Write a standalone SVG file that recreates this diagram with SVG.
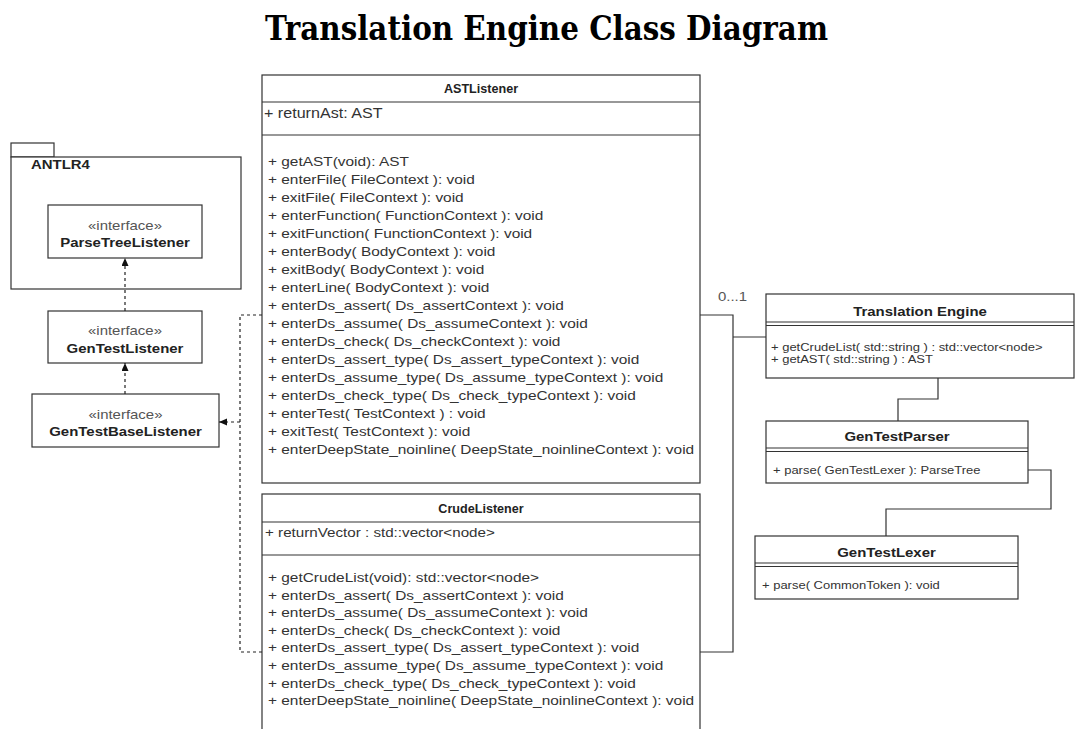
<svg xmlns="http://www.w3.org/2000/svg" width="1076" height="729" viewBox="0 0 1076 729">
<defs>
<marker id="tri" markerWidth="9" markerHeight="8" refX="8" refY="3.5" orient="auto" markerUnits="userSpaceOnUse">
<path d="M0,0 L8,3.5 L0,7 z" fill="#111"/>
</marker>
<style>
.box{fill:#fff;stroke:#333;stroke-width:1.2}
.ln{fill:none;stroke:#333;stroke-width:1.2}
.dash{fill:none;stroke:#222;stroke-width:1.2;stroke-dasharray:3,3}
text{font-family:"Liberation Sans",Arial,sans-serif;fill:#333}
.m{font-size:13.4px}
.s{font-size:11.3px}
.b{font-weight:bold;font-size:13px;fill:#222}
.hb{font-weight:bold;font-size:12px;fill:#222}
.st{font-size:13px;fill:#555}
.title{font-family:"DejaVu Serif","Liberation Serif",serif;font-weight:bold;font-size:33px;fill:#000}
</style>
</defs>
<rect width="1076" height="729" fill="#fff"/>

<text class="title" x="265" y="40" textLength="563" lengthAdjust="spacingAndGlyphs">Translation Engine Class Diagram</text>

<g id="antlr4">
<rect class="box" x="11" y="143" width="43" height="14"/>
<rect class="box" x="11" y="157" width="230" height="132"/>
<text class="b" transform="translate(31,169) scale(1.15,1)">ANTLR4</text>
</g>

<g id="parseTreeListener">
<rect class="box" x="48" y="205" width="154" height="53"/>
<text class="st" text-anchor="middle" transform="translate(125,229.5) scale(1.15,1)">«interface»</text>
<text class="b" text-anchor="middle" transform="translate(125,247) scale(1.15,1)">ParseTreeListener</text>
</g>

<g id="genTestListener">
<rect class="box" x="48" y="311" width="154" height="52"/>
<text class="st" text-anchor="middle" transform="translate(125,335) scale(1.15,1)">«interface»</text>
<text class="b" text-anchor="middle" transform="translate(125,352.5) scale(1.15,1)">GenTestListener</text>
</g>

<g id="genTestBaseListener">
<rect class="box" x="32" y="394" width="187" height="53"/>
<text class="st" text-anchor="middle" transform="translate(125.5,418.5) scale(1.15,1)">«interface»</text>
<text class="b" text-anchor="middle" transform="translate(125.5,436) scale(1.15,1)">GenTestBaseListener</text>
</g>

<g id="astListener">
<rect class="box" x="262" y="75" width="438" height="408"/>
<path class="ln" d="M262,102 H700 M262,135 H700"/>
<text class="hb" text-anchor="middle" transform="translate(481,93) scale(1.05,1)">ASTListener</text>
<text class="m" style="font-size:14px" transform="translate(264,118) scale(1.15,1)">+ returnAst: AST</text>
<g transform="translate(268,0) scale(1.15,1)">
<text class="m" y="166.5">+ getAST(void): AST</text>
<text class="m" y="184.5">+ enterFile( FileContext ): void</text>
<text class="m" y="202.5">+ exitFile( FileContext ): void</text>
<text class="m" y="220.5">+ enterFunction( FunctionContext ): void</text>
<text class="m" y="238.5">+ exitFunction( FunctionContext ): void</text>
<text class="m" y="256.5">+ enterBody( BodyContext ): void</text>
<text class="m" y="274.5">+ exitBody( BodyContext ): void</text>
<text class="m" y="292.5">+ enterLine( BodyContext ): void</text>
<text class="m" y="310.5">+ enterDs_assert( Ds_assertContext ): void</text>
<text class="m" y="328.5">+ enterDs_assume( Ds_assumeContext ): void</text>
<text class="m" y="346.5">+ enterDs_check( Ds_checkContext ): void</text>
<text class="m" y="364.5">+ enterDs_assert_type( Ds_assert_typeContext ): void</text>
<text class="m" y="382.5">+ enterDs_assume_type( Ds_assume_typeContext ): void</text>
<text class="m" y="400.5">+ enterDs_check_type( Ds_check_typeContext ): void</text>
<text class="m" y="418.5">+ enterTest( TestContext ) : void</text>
<text class="m" y="436.5">+ exitTest( TestContext ): void</text>
<text class="m" y="454.5">+ enterDeepState_noinline( DeepState_noinlineContext ): void</text>
</g>
</g>

<g id="crudeListener">
<rect class="box" x="262" y="494" width="438" height="250"/>
<path class="ln" d="M262,522 H700 M262,555 H700"/>
<text class="hb" text-anchor="middle" transform="translate(481,512.5) scale(1.05,1)">CrudeListener</text>
<text class="m" style="font-size:13.2px" transform="translate(265,537) scale(1.15,1)">+ returnVector : std::vector&lt;node&gt;</text>
<g transform="translate(268,0) scale(1.15,1)">
<text class="m" y="582">+ getCrudeList(void): std::vector&lt;node&gt;</text>
<text class="m" y="599.6">+ enterDs_assert( Ds_assertContext ): void</text>
<text class="m" y="617.2">+ enterDs_assume( Ds_assumeContext ): void</text>
<text class="m" y="634.8">+ enterDs_check( Ds_checkContext ): void</text>
<text class="m" y="652.4">+ enterDs_assert_type( Ds_assert_typeContext ): void</text>
<text class="m" y="670">+ enterDs_assume_type( Ds_assume_typeContext ): void</text>
<text class="m" y="687.6">+ enterDs_check_type( Ds_check_typeContext ): void</text>
<text class="m" y="705.2">+ enterDeepState_noinline( DeepState_noinlineContext ): void</text>
</g>
</g>

<g id="translationEngine">
<rect class="box" x="766" y="294" width="308" height="84"/>
<path class="ln" d="M766,322 H1074 M766,325.5 H1074"/>
<text class="b" text-anchor="middle" transform="translate(920,316) scale(1.15,1)">Translation Engine</text>
<g transform="translate(771,0) scale(1.15,1)">
<text class="s" y="351">+ getCrudeList( std::string ) : std::vector&lt;node&gt;</text>
<text class="s" y="363">+ getAST( std::string ) : AST</text>
</g>
</g>

<g id="genTestParser">
<rect class="box" x="766" y="421" width="262" height="62"/>
<path class="ln" d="M766,448 H1028 M766,451.5 H1028"/>
<text class="b" text-anchor="middle" transform="translate(897,440.5) scale(1.15,1)">GenTestParser</text>
<text class="s" transform="translate(773,474) scale(1.15,1)">+ parse( GenTestLexer ): ParseTree</text>
</g>

<g id="genTestLexer">
<rect class="box" x="755" y="536" width="263" height="63"/>
<path class="ln" d="M755,563 H1018 M755,566.5 H1018"/>
<text class="b" text-anchor="middle" transform="translate(886.5,556.5) scale(1.15,1)">GenTestLexer</text>
<text class="s" transform="translate(762,589) scale(1.15,1)">+ parse( CommonToken ): void</text>
</g>

<g id="connectors">
<path class="dash" d="M262,315 H240 V652 H262"/>
<path class="dash" d="M240,422 H219" marker-end="url(#tri)"/>
<path class="dash" d="M125,394 V363" marker-end="url(#tri)"/>
<path class="dash" d="M125,311 V258" marker-end="url(#tri)"/>
<path class="ln" d="M700,315 H733 V652 H700"/>
<path class="ln" d="M733,337 H766"/>
<path class="ln" d="M938,378 V399 H898 V421"/>
<path class="ln" d="M1028,470 H1051 V509 H886 V536"/>
<text class="st" transform="translate(718,301) scale(1.15,1)">0...1</text>
</g>
</svg>
